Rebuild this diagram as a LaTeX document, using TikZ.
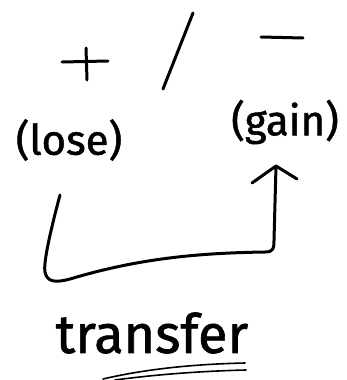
\documentclass[tikz,border=0pt]{standalone}
\usepackage{fontspec}
\setmainfont{Fira Sans}
\newfontfamily\handfont{Fira Sans}[FakeBold=1.2]
\usetikzlibrary{arrows.meta}
\tikzset{
  ink/.style={line width=3pt, line cap=round, line join=round},
  hand/.style={inner sep=0pt, font=\handfont\fontsize{42}{42}\selectfont},
}
\begin{document}
\begin{tikzpicture}[x=1pt,y=-1pt]
\useasboundingbox (0,0) rectangle (346,380);
% plus sign
\coordinate (pl) at (62,62); \coordinate (pr) at (108,61);
\coordinate (pt) at (86,48); \coordinate (pb) at (87,80);
\draw[ink] (pl) -- (pr);
\draw[ink] (pt) -- (pb);
% slash
\coordinate (s1) at (193,13); \coordinate (s2) at (163,89);
\draw[ink] (s1) -- (s2);
% minus sign
\coordinate (m1) at (261,37); \coordinate (m2) at (303,38);
\draw[ink] (m1) -- (m2);
% labels
\node[hand] (lose) at (69,140) {(lose)};
\node[hand] (gain) at (285,122) {(gain)};
\node[inner sep=0pt, font=\handfont\fontsize{54}{54}\selectfont] (transfer) at (152,333) {transfer};
% connector
\coordinate (start) at (60,195);
\coordinate (tip) at (276,166);
\draw[ink] (start) .. controls (52,225) and (43,262) .. (45,272)
  .. controls (47,282) and (55,283) .. (70,279)
  .. controls (140,258) and (200,253) .. (265,252)
  .. controls (274,252) and (274,248) .. (274,240)
  -- (tip);
\draw[ink] (252,183) -- (tip) -- (297,179);
% underline
\coordinate (u1) at (103,379); \coordinate (u2) at (245,363);
\coordinate (u3) at (115,380); \coordinate (u4) at (246,370);
\draw[line width=1.6pt, line cap=round] (u1) .. controls (150,368) and (200,364) .. (u2);
\draw[line width=1.6pt, line cap=round] (u3) .. controls (160,374) and (205,371) .. (u4);
\end{tikzpicture}
\end{document}
